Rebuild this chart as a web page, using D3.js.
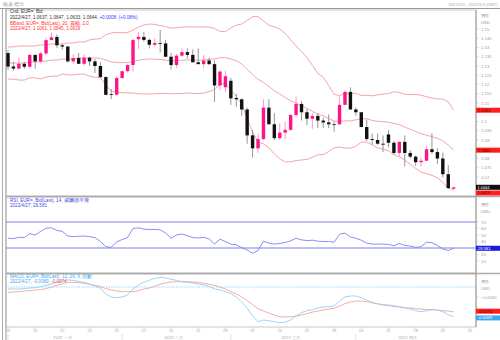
<!DOCTYPE html>
<html><head><meta charset="utf-8">
<script src="https://cdn.jsdelivr.net/npm/d3@7"></script>
<style>body{margin:0;background:#fff}svg{display:block;font-family:"Liberation Sans",Arial,sans-serif}</style>
</head><body><svg id="c" width="500" height="340"></svg>
<script>
// ---- DATA (EUR= daily, 2022/1/3 .. 2022/4/27) ----
const open  = [1.1370,1.1297,1.1286,1.1312,1.1296,1.1360,1.1325,1.1368,1.1440,1.1457,1.1412,1.1405,1.1325,1.1343,1.1312,1.1345,1.1325,1.1300,1.1240,1.1148,1.1145,1.1235,1.1272,1.1305,1.1445,1.1457,1.1441,1.1415,1.1424,1.1422,1.1350,1.1305,1.1356,1.1375,1.1360,1.1320,1.1310,1.1330,1.1310,1.1195,1.1185,1.1220,1.1127,1.1120,1.1065,1.0925,1.0855,1.0905,1.1075,1.0985,1.0910,1.0940,1.0955,1.1035,1.1095,1.1050,1.1015,1.1030,1.1005,1.0995,1.0985,1.0985,1.1090,1.1160,1.1065,1.1050,1.0970,1.0905,1.0900,1.0880,1.0930,1.0885,1.0830,1.0890,1.0830,1.0810,1.0780,1.0788,1.0850,1.0835,1.0800,1.0715,1.0637];
const high  = [1.1386,1.1322,1.1347,1.1322,1.1364,1.1361,1.1375,1.1452,1.1482,1.1470,1.1420,1.1410,1.1365,1.1370,1.1363,1.1350,1.1337,1.1320,1.1245,1.1175,1.1245,1.1275,1.1310,1.1449,1.1484,1.1483,1.1450,1.1449,1.1495,1.1440,1.1370,1.1366,1.1395,1.1395,1.1390,1.1395,1.1360,1.1345,1.1330,1.1275,1.1275,1.1235,1.1150,1.1125,1.1075,1.0954,1.0935,1.1120,1.1120,1.1045,1.0990,1.1000,1.1040,1.1135,1.1110,1.1070,1.1045,1.1045,1.1020,1.1038,1.1000,1.1135,1.1170,1.1185,1.1075,1.1050,1.1010,1.0935,1.0935,1.0925,1.0953,1.0895,1.0895,1.0925,1.0845,1.0815,1.0805,1.0868,1.0937,1.0855,1.0832,1.0765,1.0647];
const low   = [1.1280,1.1273,1.1284,1.1285,1.1290,1.1285,1.1315,1.1360,1.1440,1.1398,1.1390,1.1318,1.1313,1.1310,1.1302,1.1300,1.1262,1.1235,1.1142,1.1121,1.1140,1.1230,1.1265,1.1270,1.1393,1.1431,1.1395,1.1405,1.1373,1.1350,1.1280,1.1290,1.1350,1.1340,1.1320,1.1310,1.1290,1.1305,1.1106,1.1170,1.1160,1.1090,1.1080,1.1030,1.0880,1.0805,1.0830,1.0900,1.0985,1.0900,1.0900,1.0905,1.0950,1.1025,1.1005,1.0980,1.0960,1.0965,1.0965,1.0965,1.0945,1.0980,1.1090,1.1065,1.1030,1.0970,1.0895,1.0875,1.0875,1.0835,1.0860,1.0820,1.0810,1.0758,1.0800,1.0760,1.0757,1.0785,1.0825,1.0770,1.0697,1.0635,1.0633];
const close = [1.1297,1.1286,1.1312,1.1296,1.1360,1.1325,1.1368,1.1440,1.1455,1.1412,1.1405,1.1325,1.1343,1.1312,1.1345,1.1325,1.1300,1.1240,1.1144,1.1145,1.1235,1.1272,1.1305,1.1440,1.1458,1.1441,1.1415,1.1424,1.1422,1.1350,1.1305,1.1356,1.1375,1.1360,1.1320,1.1310,1.1330,1.1310,1.1195,1.1270,1.1245,1.1125,1.1120,1.1065,1.0925,1.0855,1.0905,1.1075,1.0985,1.0910,1.0940,1.0955,1.1035,1.1095,1.1050,1.1015,1.1030,1.1005,1.0995,1.0985,1.0982,1.1090,1.1160,1.1065,1.1050,1.0970,1.0905,1.0900,1.0880,1.0875,1.0885,1.0830,1.0890,1.0830,1.0810,1.0780,1.0788,1.0850,1.0835,1.0800,1.0715,1.0640,1.0644];
const bbUpper = [1.1403,1.1403,1.1408,1.1408,1.1408,1.1408,1.1414,1.1414,1.1419,1.1419,1.1419,1.1424,1.1424,1.1430,1.1430,1.1441,1.1446,1.1447,1.1469,1.1479,1.1481,1.1480,1.1480,1.1495,1.1510,1.1522,1.1527,1.1525,1.1519,1.1513,1.1505,1.1507,1.1510,1.1512,1.1511,1.1511,1.1511,1.1510,1.1503,1.1487,1.1486,1.1506,1.1521,1.1527,1.1547,1.1567,1.1567,1.1543,1.1520,1.1511,1.1500,1.1476,1.1442,1.1408,1.1378,1.1346,1.1304,1.1260,1.1239,1.1194,1.1147,1.1140,1.1150,1.1150,1.1153,1.1141,1.1141,1.1139,1.1144,1.1148,1.1151,1.1161,1.1157,1.1148,1.1145,1.1146,1.1142,1.1134,1.1127,1.1122,1.1121,1.1106,1.1061];
const bbMid   = [1.1316,1.1316,1.1316,1.1316,1.1322,1.1322,1.1322,1.1327,1.1332,1.1332,1.1338,1.1338,1.1338,1.1343,1.1343,1.1343,1.1343,1.1342,1.1333,1.1322,1.1319,1.1318,1.1318,1.1325,1.1330,1.1336,1.1338,1.1337,1.1335,1.1332,1.1327,1.1329,1.1331,1.1333,1.1332,1.1331,1.1332,1.1336,1.1338,1.1345,1.1345,1.1338,1.1329,1.1310,1.1283,1.1254,1.1228,1.1211,1.1189,1.1167,1.1149,1.1129,1.1112,1.1099,1.1085,1.1070,1.1055,1.1040,1.1030,1.1016,1.1003,1.1001,1.1003,1.1003,1.1009,1.1015,1.1015,1.1006,1.1001,1.0999,1.0996,1.0990,1.0983,1.0970,1.0958,1.0946,1.0934,1.0926,1.0918,1.0909,1.0895,1.0873,1.0845];
const bbLower = [1.1229,1.1229,1.1224,1.1224,1.1236,1.1236,1.1230,1.1240,1.1245,1.1245,1.1257,1.1252,1.1252,1.1256,1.1256,1.1245,1.1240,1.1237,1.1197,1.1164,1.1157,1.1156,1.1155,1.1154,1.1150,1.1149,1.1149,1.1150,1.1152,1.1152,1.1150,1.1151,1.1151,1.1154,1.1152,1.1151,1.1153,1.1162,1.1174,1.1202,1.1204,1.1170,1.1136,1.1093,1.1019,1.0941,1.0890,1.0879,1.0858,1.0824,1.0798,1.0782,1.0782,1.0789,1.0792,1.0795,1.0807,1.0820,1.0821,1.0838,1.0858,1.0862,1.0856,1.0856,1.0866,1.0889,1.0889,1.0874,1.0858,1.0851,1.0842,1.0820,1.0809,1.0791,1.0770,1.0746,1.0726,1.0718,1.0709,1.0696,1.0670,1.0640,1.0629];
const rsi = [45,44.5,46.5,46,52,50,55.5,60.5,61,57,55.5,48.5,47.5,48,48.5,47.5,46,40,32,31,39.5,43,46,60,61,59,58.5,58.5,58,53,45,50,51.5,49,46,45.5,46.5,44,36,43.5,40,36,35,30.5,27,22,26,40.5,37.5,36,37,38.5,41,45,42.5,41.5,42,40.5,40,40,39,51,53,47,45,42,37.5,36,36,36,35.5,33.5,37,34,33,31,32,39,38,34,28.5,26,29.581];
const macd = [-0.0006,-0.0006,-0.0006,-0.0005,-0.0003,-0.0002,0.0001,0.0005,0.0009,0.0015,0.0018,0.0021,0.0020,0.0017,0.0014,0.0009,0.0003,-0.0003,-0.0021,-0.0030,-0.0032,-0.0030,-0.0024,-0.0006,0.0006,0.0014,0.0020,0.0026,0.0029,0.0027,0.0023,0.0020,0.0015,0.0014,0.0012,0.0009,0.0006,0.0002,-0.0006,-0.0009,-0.0014,-0.0020,-0.0030,-0.0045,-0.0063,-0.0087,-0.0104,-0.0099,-0.0101,-0.0104,-0.0107,-0.0105,-0.0099,-0.0087,-0.0077,-0.0071,-0.0068,-0.0063,-0.0060,-0.0059,-0.0057,-0.0042,-0.0030,-0.0027,-0.0027,-0.0032,-0.0039,-0.0047,-0.0051,-0.0054,-0.0056,-0.0059,-0.0060,-0.0063,-0.0066,-0.0071,-0.0074,-0.0071,-0.0068,-0.0068,-0.0074,-0.0083,-0.0089];
const signal = [-0.0016,-0.0015,-0.0014,-0.0012,-0.0011,-0.0009,-0.0008,-0.0005,0.0000,0.0005,0.0009,0.0014,0.0014,0.0013,0.0011,0.0008,0.0005,0.0002,-0.0005,-0.0009,-0.0012,-0.0014,-0.0014,-0.0014,-0.0011,-0.0006,-0.0003,0.0002,0.0008,0.0012,0.0015,0.0016,0.0017,0.0016,0.0015,0.0014,0.0011,0.0008,0.0005,0.0000,-0.0006,-0.0014,-0.0021,-0.0030,-0.0041,-0.0053,-0.0065,-0.0072,-0.0078,-0.0084,-0.0089,-0.0090,-0.0089,-0.0087,-0.0084,-0.0080,-0.0075,-0.0072,-0.0069,-0.0066,-0.0064,-0.0057,-0.0050,-0.0045,-0.0042,-0.0042,-0.0044,-0.0047,-0.0050,-0.0053,-0.0054,-0.0056,-0.0059,-0.0062,-0.0063,-0.0065,-0.0066,-0.0068,-0.0068,-0.0069,-0.0071,-0.0072,-0.0074];
const weekIdx = [0,5,10,15,20,25,30,35,40,45,50,55,60,65,70,75,80,85];
const weekLabels = ["03","10","17","24","31","07","14","21","28","07","14","21","28","04","11","18","25","02"];
const monthLabels = ["2022 一月","2022 二月","2022 三月","2022 四月"];
const monthStart = [0,21,41,64];
const monthEnd = [20,40,63,83];
const priceTicks = [1.15,1.145,1.14,1.135,1.13,1.125,1.12,1.115,1.11,1.105,1.1,1.095,1.09,1.085,1.08,1.075,1.07];
const rsiTicks = [70,60,50,40,30,20,10];
const macdTicks = [-0.003,-0.006];

// ---- LAYOUT ----
const svg = d3.select("#c");
const L = 6, R = 476, W = 500;
const P = {top:10, bot:196}, Q = {top:197, bot:273}, M = {top:274, bot:327};
const fs = 4.6;
const x = d3.scaleLinear().domain([0,85]).range([8,470]);
const yP = d3.scaleLinear().domain([1.15,1.07]).range([29,177]);
const yR = d3.scaleLinear().domain([70,30]).range([222,248]);
const yM = d3.scaleLinear().domain([0,-0.0074]).range([287,311.7]);

svg.append("rect").attr("width",500).attr("height",340).attr("fill","#fff");
// top bar
svg.append("text").attr("x",3).attr("y",5.5).attr("font-size",4.6).attr("fill","#999").text("報表  標示");
svg.append("text").attr("x",498).attr("y",5.5).attr("text-anchor","end").attr("font-size",4.2).attr("fill","#aaa").text("2022/1/3 - 2022/5/3 (GMT)");
svg.append("line").attr("x1",0).attr("x2",500).attr("y1",8.5).attr("y2",8.5).attr("stroke","#999").attr("stroke-width",1.2);
// frame
const frame = svg.append("g").attr("fill","none");
frame.append("line").attr("x1",2.5).attr("x2",2.5).attr("y1",9).attr("y2",340).attr("stroke","#aaa");
frame.append("line").attr("x1",L).attr("x2",L).attr("y1",9).attr("y2",340).attr("stroke","#999");
[P,Q,M].forEach(p=>{
  frame.append("rect").attr("x",L).attr("y",p.top).attr("width",R-L).attr("height",p.bot-p.top).attr("stroke","#bbb").attr("stroke-width",0.8);
});
[196.5,273.5].forEach(yy=>frame.append("line").attr("x1",L).attr("x2",W).attr("y1",yy).attr("y2",yy).attr("stroke","#aaa").attr("stroke-width",1.5));
frame.append("line").attr("x1",R).attr("x2",R).attr("y1",P.top).attr("y2",M.bot).attr("stroke","#999");

function clip(id,p){svg.append("clipPath").attr("id",id).append("rect").attr("x",L).attr("y",p.top).attr("width",R-L).attr("height",p.bot-p.top);}
clip("cp",P);clip("cq",Q);clip("cm",M);

// ---- PRICE PANEL ----
const gp = svg.append("g").attr("clip-path","url(#cp)");
const idx = d3.range(close.length);
const bandLine = arr => d3.line().x((d,i)=>x(i)).y(d=>yP(d))(arr);
[bbUpper,bbMid,bbLower].forEach(a=>gp.append("path").attr("d",bandLine(a)).attr("fill","none").attr("stroke","#f39b9b").attr("stroke-width",0.9));
const up = i => close[i] >= open[i];
gp.selectAll(".wick").data(idx).join("line")
  .attr("x1",i=>x(i)).attr("x2",i=>x(i)).attr("y1",i=>yP(high[i])).attr("y2",i=>yP(low[i]))
  .attr("stroke",i=>up(i)?"#ff8cc6":"#8a8a8a").attr("stroke-width",0.9);
gp.selectAll(".body").data(idx).join("rect")
  .attr("x",i=>x(i)-1.7).attr("width",3.4)
  .attr("y",i=>yP(Math.max(open[i],close[i])))
  .attr("height",i=>Math.max(0.8,Math.abs(yP(open[i])-yP(close[i]))))
  .attr("fill",i=>up(i)?"#ff1485":"#111");

// tags on the right axis
const tags = [];
function tag(y,txt,bg,fg,fsz){
  tags.push(y);
  const g=svg.append("g");
  g.append("rect").attr("x",R).attr("y",y-2.5).attr("width",W-R).attr("height",5).attr("fill",bg);
  g.append("text").attr("x",R+1.5).attr("y",y+1.4).attr("font-size",fsz||4.3).attr("fill",fg).text(txt);
}
const ax = svg.append("g").attr("font-size",4.3).attr("fill","#999");
function tick(y,txt){
  ax.append("line").attr("x1",R).attr("x2",R+2.5).attr("y1",y).attr("y2",y).attr("stroke","#bbb").attr("stroke-width",0.6);
  if (tags.every(t=>Math.abs(t-y)>4.5)) ax.append("text").attr("x",481).attr("y",y+1.5).text(txt);
}
tag(yP(bbUpper[82]),"1.1061","#ff1e1e","#600");
tag(yP(bbMid[82]),"1.0845","#ff1e1e","#600");
tag(187.3,"1.0644","#111","#fff",3.9);
tag(193,"1.0629","#ff1e1e","#600",3.9);
tag(yR(29.581),"29.581","#1a1adc","#fff");
tag(yM(-0.0074)-0.5,"-0.0074","#ff1e1e","#600");
tag(yM(-0.0089)+1.2,"-0.0089","#3aa8f0","#fff");

// price axis
ax.append("text").attr("x",481).attr("y",17).text("價格");
ax.append("text").attr("x",481).attr("y",23.5).text("USD");
priceTicks.forEach(t=>tick(yP(t),d3.format(".3~f")(t)));

// price header
const hp = svg.append("g").attr("font-size",fs);
hp.append("text").attr("x",10).attr("y",13).attr("fill","#333").text("Cnd, EUR=, Bid");
const t2 = hp.append("text").attr("x",10).attr("y",18.5).attr("fill","#333");
t2.append("tspan").text("2022/4/27, 1.0637, 1.0647, 1.0633, 1.0644, ");
t2.append("tspan").attr("fill","#3b3bff").text("+0.0008, (+0.08%)");
hp.append("text").attr("x",10).attr("y",24.5).attr("fill","#ff3030").text("BBand, EUR=, Bid(Last), 20, 震幅, 2.0");
hp.append("text").attr("x",10).attr("y",30).attr("fill","#ff3030").text("2022/4/27, 1.1061, 1.0845, 1.0629");

// ---- RSI PANEL ----
const gq = svg.append("g").attr("clip-path","url(#cq)");
[70,30].forEach(v=>gq.append("line").attr("x1",L).attr("x2",R).attr("y1",yR(v)).attr("y2",yR(v)).attr("stroke","#7d7df0").attr("stroke-width",1));
gq.append("path").attr("d",d3.line().x((d,i)=>x(i)).y(d=>yR(d))(rsi)).attr("fill","none").attr("stroke","#8080ee").attr("stroke-width",0.9);
const hq = svg.append("g").attr("font-size",fs).attr("fill","#4a4ae0");
hq.append("text").attr("x",10).attr("y",201.5).text("RSI, EUR=, Bid(Last), 14, 威爾德平滑");
hq.append("text").attr("x",10).attr("y",207).text("2022/4/27, 29.581");
ax.append("text").attr("x",481).attr("y",206).text("價格");
ax.append("text").attr("x",481).attr("y",213).text("USD");
rsiTicks.forEach(t=>tick(yR(t),t));

// ---- MACD PANEL ----
const gm = svg.append("g").attr("clip-path","url(#cm)");
gm.append("line").attr("x1",L).attr("x2",R).attr("y1",yM(0)).attr("y2",yM(0)).attr("stroke","#87cefa").attr("stroke-width",0.8).attr("stroke-dasharray","1.5,1");
gm.append("path").attr("d",d3.line().x((d,i)=>x(i)).y(d=>yM(d))(signal)).attr("fill","none").attr("stroke","#f5a3a0").attr("stroke-width",0.9);
gm.append("path").attr("d",d3.line().x((d,i)=>x(i)).y(d=>yM(d))(macd)).attr("fill","none").attr("stroke","#90cff5").attr("stroke-width",0.9);
const hm = svg.append("g").attr("font-size",fs);
hm.append("text").attr("x",10).attr("y",277.5).attr("fill","#40a8f0").text("MACD, EUR=, Bid(Last), 12, 26, 9, 指數");
const t3 = hm.append("text").attr("x",10).attr("y",283).attr("fill","#40a8f0");
t3.append("tspan").text("2022/4/27, -0.0089, ");
t3.append("tspan").attr("fill","#ff4040").text("-0.0074");
ax.append("text").attr("x",481).attr("y",283).text("價格");
ax.append("text").attr("x",481).attr("y",290).text("USD");
macdTicks.forEach(t=>tick(yM(t),d3.format(".4f")(t).replace("-","−")));

// ---- X AXIS ----
const xa = svg.append("g").attr("fill","#aaa").attr("font-size",4.2);
weekIdx.forEach((w,k)=>{
  xa.append("line").attr("x1",x(w)).attr("x2",x(w)).attr("y1",M.bot).attr("y2",M.bot+2).attr("stroke","#bbb").attr("stroke-width",0.6);
  xa.append("text").attr("x",x(w)).attr("y",332).attr("text-anchor","middle").text(weekLabels[k]);
});
monthLabels.forEach((m,k)=>{
  xa.append("line").attr("x1",x(monthStart[k])).attr("x2",x(monthStart[k])).attr("y1",334).attr("y2",340).attr("stroke","#ccc").attr("stroke-width",0.6);
  xa.append("text").attr("x",(x(monthStart[k])+x(monthEnd[k]))/2).attr("y",338.5).attr("text-anchor","middle").text(m);
});
</script></body></html>
